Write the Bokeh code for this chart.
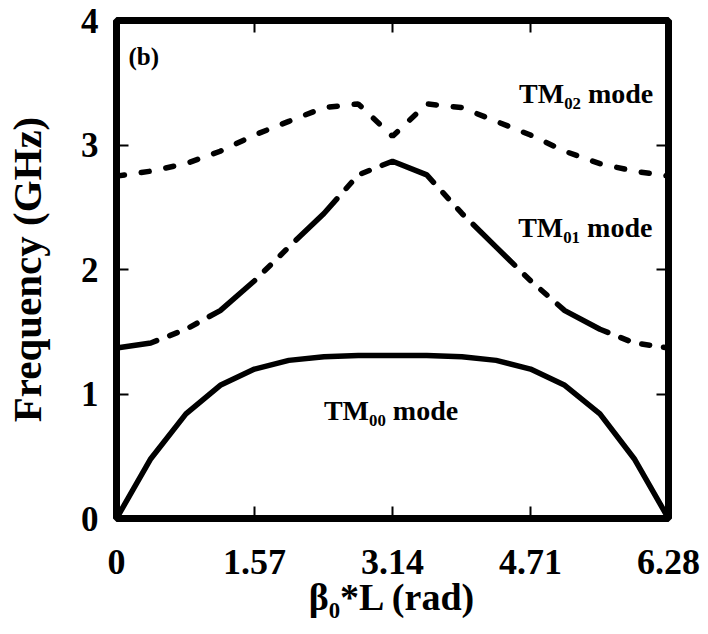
from bokeh.plotting import figure
from bokeh.models import Range1d, FixedTicker, LinearAxis, NumeralTickFormatter
from bokeh.core.properties import value
from bokeh.embed import file_html
from bokeh.resources import INLINE

# ---- data ----
beta_l = [0, 0.39, 0.79, 1.18, 1.57, 1.96, 2.36, 2.75, 3.14,
          3.53, 3.93, 4.32, 4.71, 5.10, 5.50, 5.89, 6.28]
tm00 = [0, 0.48, 0.84, 1.07, 1.20, 1.27, 1.30, 1.31, 1.31,
        1.31, 1.30, 1.27, 1.20, 1.07, 0.84, 0.48, 0]
tm01 = [1.37, 1.41, 1.52, 1.67, 1.91, 2.18, 2.45, 2.76, 2.87,
        2.76, 2.45, 2.18, 1.91, 1.67, 1.52, 1.41, 1.37]
tm02 = [2.75, 2.79, 2.85, 2.95, 3.08, 3.19, 3.30, 3.33, 3.07,
        3.33, 3.30, 3.19, 3.08, 2.95, 2.85, 2.79, 2.75]

x_ticks = [0, 1.57, 3.14, 4.71, 6.28]
y_ticks = [0, 1, 2, 3, 4]

x_title = "β₀*L (rad)"
y_title = "Frequency (GHz)"
mode_labels = ["TM₀₀ mode", "TM₀₁ mode", "TM₀₂ mode"]
mode_label_x = [2.36, 4.57, 4.58]
mode_label_y = [0.867, 2.337, 3.414]

FONT = "Liberation Serif"

p = figure(width=708, height=634,
           x_range=Range1d(0, 6.28), y_range=Range1d(0, 4),
           output_backend="svg", toolbar_location=None,
           min_border_left=115, min_border_right=40,
           min_border_top=20, min_border_bottom=116)

p.grid.visible = False
p.outline_line_color = "black"
p.outline_line_width = 7
p.background_fill_color = "white"
p.border_fill_color = "white"

# curves
p.line(beta_l, tm00, line_color="black", line_width=5.5)
p.line(beta_l, tm01, line_color="black", line_width=5.5,
       line_dash="58 14 8 14 8 14", line_dash_offset=17, line_cap="round")
p.line(beta_l, tm02, line_color="black", line_width=5.5,
       line_dash="8 17", line_cap="round")

# axes styling
def style_axis(ax, show_labels, size="36px"):
    ax.axis_line_color = None
    ax.major_tick_in = 12
    ax.major_tick_out = 0
    ax.major_tick_line_width = 2
    ax.major_tick_line_color = "black"
    ax.minor_tick_line_color = None
    ax.major_label_text_font = FONT
    ax.major_label_text_font_style = "bold"
    if show_labels:
        ax.major_label_text_font_size = size
        ax.major_label_text_color = "black"
    else:
        ax.major_label_text_font_size = "1px"
        ax.major_label_text_color = None
        ax.major_label_standoff = 0
        ax.axis_label_standoff = 0

xax = p.xaxis[0]
yax = p.yaxis[0]
xax.ticker = FixedTicker(ticks=x_ticks)
xax.formatter = NumeralTickFormatter(format="0.[00]")
yax.ticker = FixedTicker(ticks=y_ticks)
style_axis(xax, True, "36px")
style_axis(yax, True, "35px")
xax.major_label_standoff = 31
yax.major_label_standoff = 18

xax.axis_label = x_title
yax.axis_label = y_title
for ax, size in ((xax, "38px"), (yax, "41px")):
    ax.axis_label_text_font = FONT
    ax.axis_label_text_font_style = "bold"
    ax.axis_label_text_font_size = size
    ax.axis_label_text_color = "black"
xax.axis_label_standoff = -1
yax.axis_label_standoff = 28

top = LinearAxis(ticker=FixedTicker(ticks=x_ticks))
right = LinearAxis(ticker=FixedTicker(ticks=y_ticks))
style_axis(top, False)
style_axis(right, False)
p.add_layout(top, "above")
p.add_layout(right, "right")

# annotations
p.text(x=mode_label_x, y=mode_label_y, text=mode_labels,
       text_font=value(FONT), text_font_style="bold",
       text_font_size="28px", text_color="black",
       text_align="left", text_baseline="alphabetic")
p.text(x=[0.136], y=[3.71], text=["(b)"],
       text_font=value(FONT), text_font_style="bold",
       text_font_size="25px", text_color="black",
       text_align="left", text_baseline="middle")

open("out.html", "w").write(file_html(p, INLINE))
